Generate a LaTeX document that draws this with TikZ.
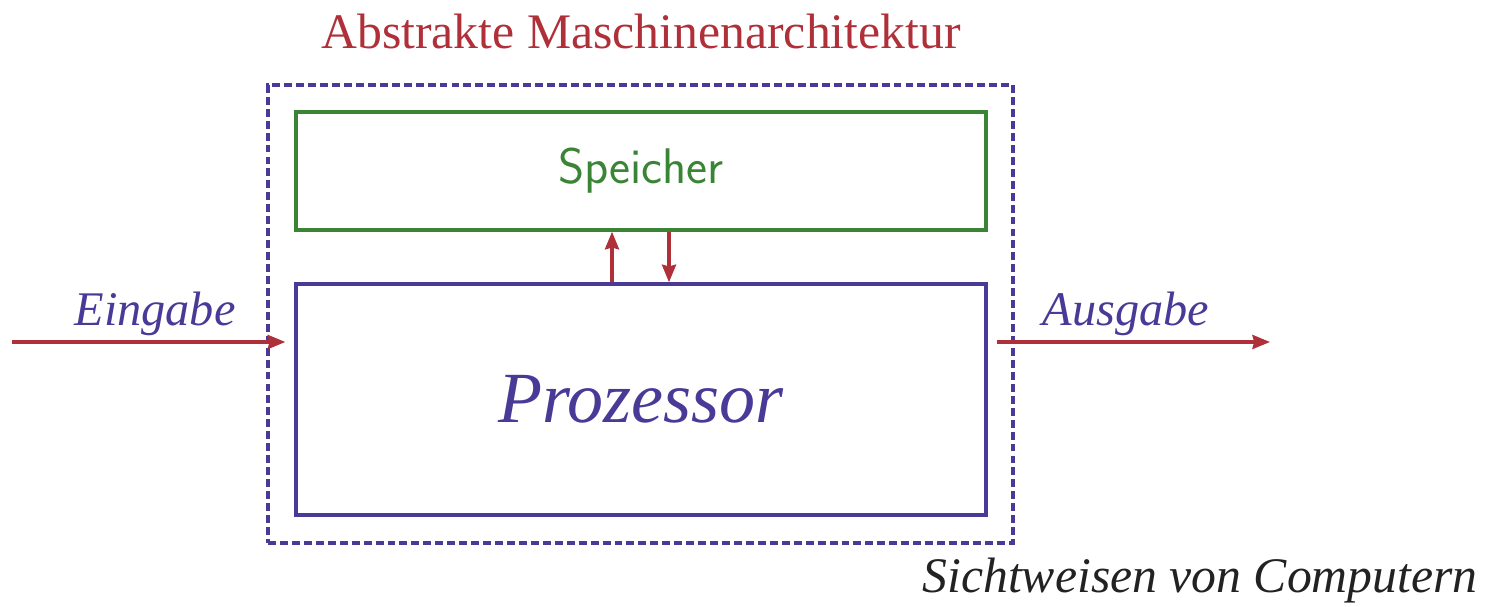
\documentclass[tikz,border=0pt]{standalone}
\usepackage{fontspec}
\setmainfont{Liberation Serif}[ItalicFont={Liberation Serif Italic},BoldFont={Liberation Serif Bold}]
\usetikzlibrary{arrows.meta}
\definecolor{myred}{RGB}{176,48,58}
\definecolor{myblue}{RGB}{72,58,150}
\definecolor{mygreen}{RGB}{58,133,53}
\definecolor{mygray}{RGB}{34,34,34}
\begin{document}
\begin{tikzpicture}[x=0.02cm,y=-0.02cm,
  box/.style={draw,line width=2pt,inner sep=0pt,minimum width=13.8cm},
  conn/.style={draw=myred,line width=1.8pt,-{Stealth[length=10pt,width=8pt,inset=1pt]}},
  lbl/.style={text=myblue,font=\fontsize{27.5}{30}\selectfont\itshape,inner sep=0pt}]
\useasboundingbox (0,0) rectangle (1488,607);
\node[draw=myblue,dash pattern=on 4.5pt off 2.3pt,line width=1.8pt,minimum width=14.9cm,minimum height=9.16cm,inner sep=0pt] (outer) at (640.5,314) {};
\node[box,draw=mygreen,minimum height=2.36cm,text=mygreen,font=\sffamily\fontsize{28.5}{32}\selectfont] (spei) at (641,171) {Speicher};
\node[box,draw=myblue,minimum height=4.62cm,text=myblue,font=\fontsize{41}{48}\selectfont\itshape] (proz) at (641,399.5) {Prozessor};
\node[text=myred,font=\fontsize{28.3}{34}\selectfont,inner sep=0pt] (title) at (641,32) {Abstrakte Maschinenarchitektur};
\node[text=mygray,font=\fontsize{28.3}{32}\selectfont\itshape,inner sep=0pt,anchor=east] (sicht) at (1478,581) {Sichtweisen von Computern};
\coordinate (ux) at (612,0);
\coordinate (dx) at (669,0);
\draw[conn] (proz.north -| ux) -- (spei.south -| ux);
\draw[conn] (spei.south -| dx) -- (proz.north -| dx);
\coordinate (in) at (12,342);
\coordinate (out) at (1270,342);
\draw[conn,shorten >=0.18cm] (in) -- (proz.west |- in);
\draw[conn,shorten <=0.18cm] (proz.east |- out) -- (out);
\node[lbl] (ein) at (155,314) {Eingabe};
\node[lbl] (aus) at (1126,314) {Ausgabe};
\end{tikzpicture}
\end{document}
